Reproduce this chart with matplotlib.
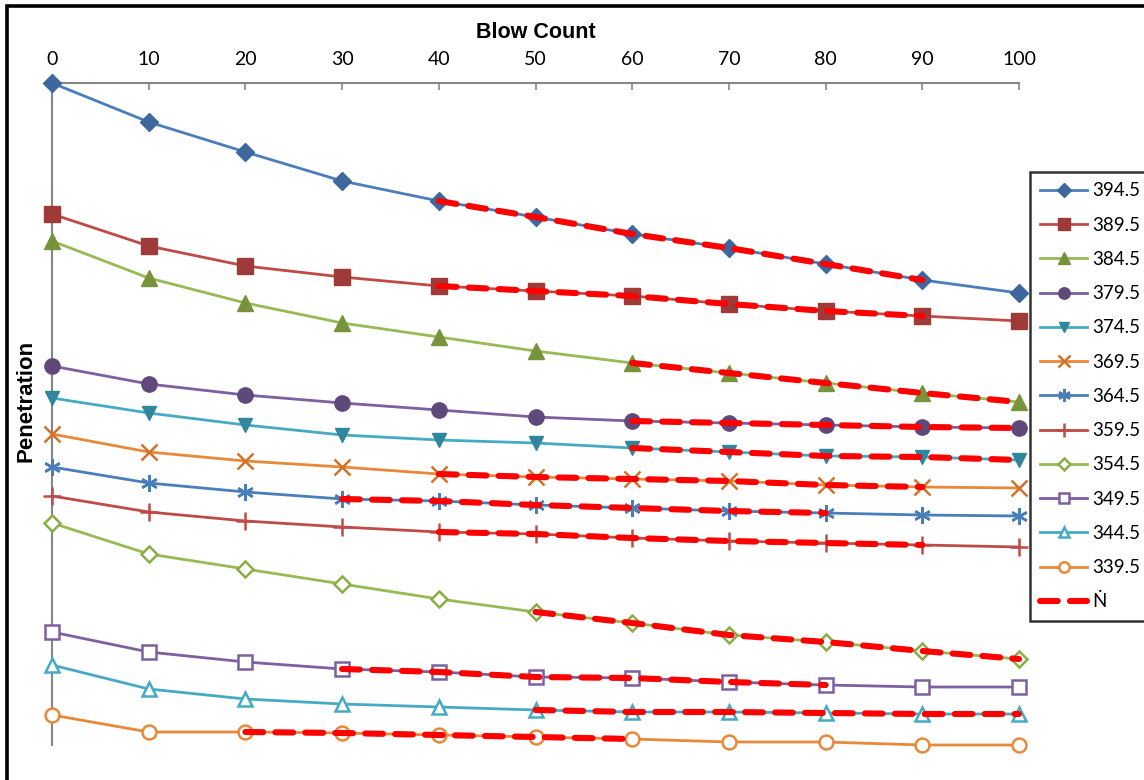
import numpy as np
import matplotlib.pyplot as plt
from matplotlib.patches import Rectangle

# ---- data (penetration, arbitrary depth units, 0 = top) ----
blow_count = [0, 10, 20, 30, 40, 50, 60, 70, 80, 90, 100]
series_names = ['394.5', '389.5', '384.5', '379.5', '374.5', '369.5',
                '364.5', '359.5', '354.5', '349.5', '344.5', '339.5']

pen_394 = [0, 39, 69, 98, 118, 134, 151, 165, 181, 197, 210]
pen_389 = [131, 163, 183, 194, 203, 208, 213, 221, 228, 233, 238]
pen_384 = [158, 195, 220, 240, 254, 268, 280, 290, 300, 310, 319]
pen_379 = [283, 301, 312, 320, 327, 334, 338, 340, 342, 344, 345]
pen_374 = [315, 330, 342, 352, 357, 360, 365, 369, 373, 374, 377]
pen_369 = [351, 369, 378, 384, 391, 394, 396, 398, 402, 404, 405]
pen_364 = [384, 400, 409, 416, 418, 422, 425, 428, 430, 432, 433]
pen_359 = [413, 429, 438, 444, 449, 451, 455, 458, 460, 462, 464]
pen_354 = [440, 471, 486, 501, 516, 529, 540, 552, 559, 568, 576]
pen_349 = [549, 569, 579, 586, 589, 594, 595, 599, 602, 604, 604]
pen_344 = [582, 606, 616, 621, 624, 627, 629, 629, 630, 631, 631]
pen_339 = [632, 649, 649, 650, 652, 654, 656, 659, 659, 662, 662]

# blow-count window of the N-dot overlay on each series
ndot_start = [40, 40, 60, 60, 60, 40, 30, 40, 50, 30, 50, 20]
ndot_end = [90, 90, 100, 100, 100, 90, 80, 90, 100, 80, 100, 60]

all_pen = [pen_394, pen_389, pen_384, pen_379, pen_374, pen_369,
           pen_364, pen_359, pen_354, pen_349, pen_344, pen_339]

# ---- styles ----
line_colors = ['#4A7EBB', '#BE4B48', '#98B954', '#7D60A0', '#46AAC5', '#E8893A',
               '#4A7EBB', '#BE4B48', '#98B954', '#7D60A0', '#46AAC5', '#E8893A']
mark_colors = ['#3E679E', '#9E3B38', '#77933C', '#5F497A', '#31859C', '#D0722A',
               '#4A7EBB', '#BE4B48', '#8AAE45', '#7D60A0', '#46AAC5', '#E8893A']
markers = ['D', 's', '^', 'o', 'v', 'x', (6, 2, 0), '+', 'D', 's', '^', 'o']
msizes = [9, 11, 11, 11, 10, 11, 12, 13, 8, 10, 10, 10]
hollow = [False] * 8 + [True] * 4

plt.rcParams['font.family'] = ['Lato', 'DejaVu Sans']
bold_font = ['Liberation Sans', 'DejaVu Sans']

fig = plt.figure(figsize=(11.44, 7.8), dpi=100)
ax = fig.add_axes([52 / 1144, 1 - 745 / 780, (1019 - 52) / 1144, (745 - 83) / 780])

x = np.array(blow_count)
for i, name in enumerate(series_names):
    ax.plot(x, all_pen[i], color=line_colors[i], lw=2, marker=markers[i], ms=msizes[i],
            mfc='white' if hollow[i] else mark_colors[i], mec=mark_colors[i],
            mew=1.8 if (hollow[i] or markers[i] in ['x', '+'] or i == 6) else 1,
            label=name, zorder=3, clip_on=False)

for i in range(len(series_names)):
    m = (x >= ndot_start[i]) & (x <= ndot_end[i])
    ax.plot(x[m], np.array(all_pen[i])[m], color='#FF0000', lw=4.4, ls=(0, (2.9, 2.0)),
            dash_capstyle='round', label='Ṅ' if i == 0 else None, zorder=4, clip_on=False)

ax.set_xlim(0, 100)
ax.set_ylim(662, 0)
ax.set_xticks(blow_count)
ax.xaxis.tick_top()
ax.xaxis.set_label_position('top')
ax.tick_params(axis='x', direction='in', length=5, width=1.2, color='#868686',
               labelsize=14, pad=11)
ax.set_yticks([])
for s in ['bottom', 'right']:
    ax.spines[s].set_visible(False)
for s in ['top', 'left']:
    ax.spines[s].set_color('#868686')
    ax.spines[s].set_linewidth(1.5)
ax.spines['top'].set_zorder(1)

ax.set_xlabel('Blow Count', fontsize=15.5, fontweight='bold', family=bold_font, labelpad=9)
ax.set_ylabel('Penetration', fontsize=16, fontweight='bold', family=bold_font)
ax.yaxis.set_label_coords(-0.0165, 0.52)

leg = ax.legend(loc='upper left', bbox_to_anchor=(1030 / 1144, 1 - 172 / 780),
                bbox_transform=fig.transFigure, frameon=True, fancybox=False,
                fontsize=13.5, labelspacing=0.92, handlelength=2.5, handletextpad=0.25,
                borderpad=0.55, borderaxespad=0, markerscale=0.75)
leg.get_frame().set_edgecolor('black')
leg.get_frame().set_linewidth(1.8)

# outer frame of the picture (top and left edges are visible)
fig.add_artist(Rectangle((6.5 / 1144, -0.1), 1.2, 1.1 - 6.5 / 780, fill=False,
                         lw=2.6, edgecolor='black', transform=fig.transFigure))

fig.savefig('out.png', dpi=100)
